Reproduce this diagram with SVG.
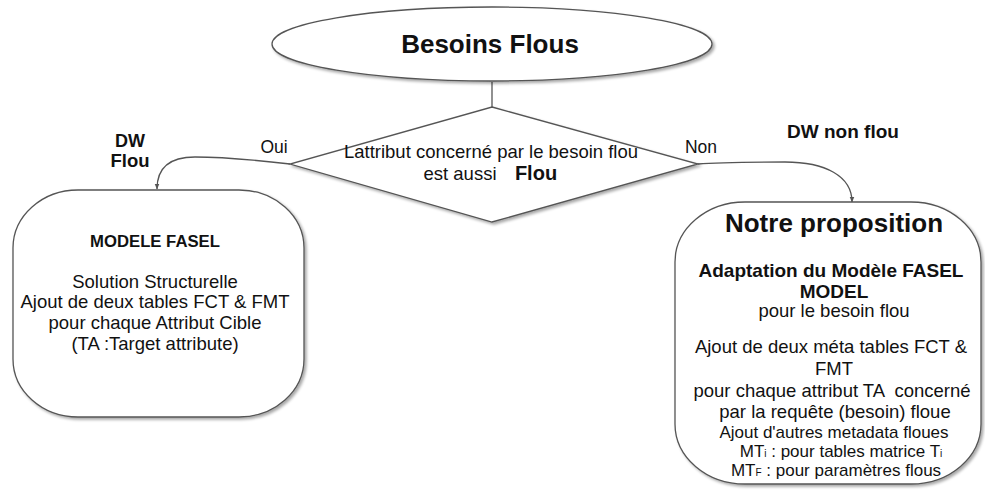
<svg xmlns="http://www.w3.org/2000/svg" width="985" height="492" viewBox="0 0 985 492">
<style>
.shape{fill:#ffffff;stroke:#555555;stroke-width:1.3}
.conn{fill:none;stroke:#555555;stroke-width:1.3}
text{font-family:"Liberation Sans",Arial,sans-serif;fill:#111111;text-anchor:middle}
.b{font-weight:bold}
.r{font-size:18.5px}
.s{font-size:17px}
.lbl{font-size:17.5px}
</style>
<defs>
<marker id="arr" viewBox="0 0 10 10" refX="9" refY="5" markerWidth="6" markerHeight="6" orient="auto" markerUnits="userSpaceOnUse">
<path d="M0,1 L10,5 L0,9 z" fill="#555555"/>
</marker>
<filter id="sh" x="-10%" y="-10%" width="125%" height="125%">
<feGaussianBlur in="SourceAlpha" stdDeviation="1.5"/>
<feOffset dx="2" dy="2" result="o"/>
<feComponentTransfer><feFuncA type="linear" slope="0.35"/></feComponentTransfer>
<feMerge><feMergeNode/><feMergeNode in="SourceGraphic"/></feMerge>
</filter>
</defs>
<rect width="985" height="492" fill="#ffffff"/>

<g id="connectors">
<path class="conn" d="M492,82 L492,107"/>
<path class="conn" d="M290,164 C255,160 225,157 195,157 C170,157 157,168 157,189" marker-end="url(#arr)"/>
<path class="conn" d="M698,164 C720,162 750,162 785,162 C825,162 852,176 852,202" marker-end="url(#arr)"/>
<text class="lbl" x="274" y="153">Oui</text>
<text class="lbl" x="701" y="153">Non</text>
</g>

<g id="start">
<ellipse class="shape" cx="492" cy="44" rx="220" ry="37" filter="url(#sh)"/>
<text class="b" x="490" y="53" font-size="26">Besoins Flous</text>
</g>

<g id="decision">
<polygon class="shape" points="492,107 698,164 492,222 290,164" filter="url(#sh)"/>
<text class="r" x="491" y="158">Lattribut concerné par le besoin flou</text>
<text class="r" x="460" y="180">est aussi</text>
<text class="b" x="536" y="180" font-size="20">Flou</text>
</g>

<g id="label-dw-flou">
<text class="b" x="130" y="147" font-size="18">DW</text>
<text class="b" x="130" y="167" font-size="18.5">Flou</text>
</g>

<g id="label-dw-non-flou">
<text class="b" x="843" y="138" font-size="19">DW non flou</text>
</g>

<g id="fasel">
<rect class="shape" x="13" y="190" width="291" height="227" rx="65" ry="58" filter="url(#sh)"/>
<text class="b" x="155" y="247" font-size="16.7">MODELE FASEL</text>
<text class="r" x="155" y="288">Solution Structurelle</text>
<text class="r" x="155" y="308">Ajout de deux tables FCT &amp; FMT</text>
<text class="r" x="155" y="329">pour chaque Attribut Cible</text>
<text class="r" x="155" y="350">(TA :Target attribute)</text>
</g>

<g id="proposition">
<rect class="shape" x="675" y="202" width="306" height="282" rx="70" ry="60" filter="url(#sh)"/>
<text class="b" x="834" y="232" font-size="26">Notre proposition</text>
<text class="b" x="831" y="277" font-size="19">Adaptation du Modèle FASEL</text>
<text class="b" x="834" y="298" font-size="19">MODEL</text>
<text class="r" x="834" y="317">pour le besoin flou</text>
<text class="r" x="831" y="353">Ajout de deux méta tables FCT &amp;</text>
<text class="r" x="834" y="375">FMT</text>
<text class="r" x="832" y="397" xml:space="preserve">pour chaque attribut TA  concerné</text>
<text class="r" x="835" y="418">par la requête (besoin) floue</text>
<text class="s" x="834" y="438">Ajout d'autres metadata floues</text>
<text class="s" x="841" y="457">MT<tspan font-size="10">i</tspan> : pour tables matrice T<tspan font-size="10">i</tspan></text>
<text class="s" x="836" y="476">MT<tspan font-size="10">F</tspan> : pour paramètres flous</text>
</g>
</svg>
